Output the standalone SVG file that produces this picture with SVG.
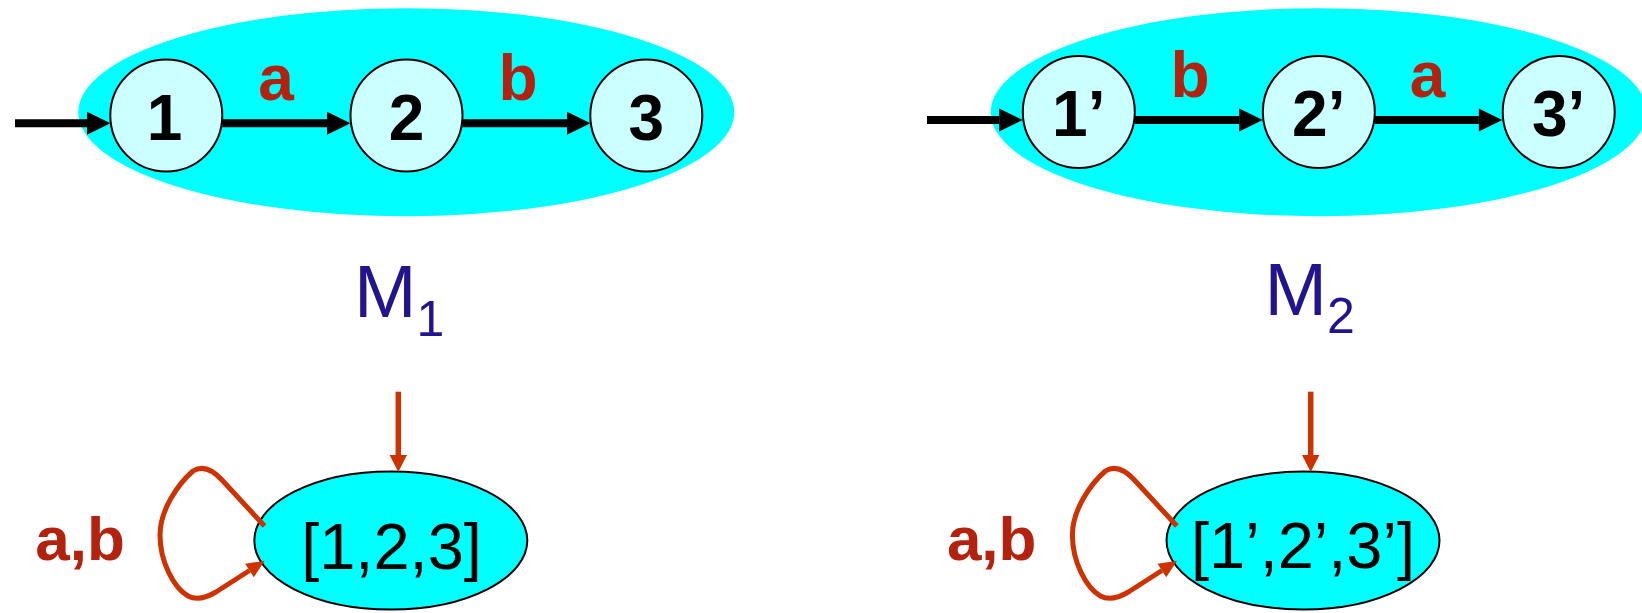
<svg xmlns="http://www.w3.org/2000/svg" width="1642" height="613" viewBox="0 0 1642 613">
  <style>
    .bg { fill: #00FFFF; stroke: none; }
    .state { fill: #CCFFFF; stroke: #000000; stroke-width: 2; }
    .dstate { fill: #00FFFF; stroke: #000000; stroke-width: 2; }
    .num { font-family: "Liberation Sans", Arial, sans-serif; font-weight: bold; font-size: 64px; fill: #000000; text-anchor: middle; }
    .lbl { font-family: "Liberation Sans", Arial, sans-serif; font-weight: bold; font-size: 64px; fill: #B3220F; text-anchor: middle; }
    .ab { font-family: "Liberation Sans", Arial, sans-serif; font-weight: bold; font-size: 62px; fill: #B3220F; text-anchor: middle; }
    .set { font-family: "Liberation Sans", Arial, sans-serif; font-size: 65px; fill: #000000; text-anchor: middle; }
    .mname { font-family: "Liberation Sans", Arial, sans-serif; font-size: 75px; fill: #22148F; }
    .blk { stroke: #000000; stroke-width: 8; fill: none; marker-end: url(#ahb); }
    .red { stroke: #CC3300; stroke-width: 5.5; fill: none; marker-end: url(#ahr); }
    .loop { stroke: #CC3300; stroke-width: 5; fill: none; stroke-linejoin: round; marker-end: url(#ahl); }
  </style>
  <defs>
    <marker id="ahb" markerUnits="userSpaceOnUse" markerWidth="24" markerHeight="24" refX="0" refY="11.5" orient="auto" overflow="visible">
      <path d="M0,0 L23.5,11.5 L0,23 z" fill="#000000"/>
    </marker>
    <marker id="ahr" markerUnits="userSpaceOnUse" markerWidth="18" markerHeight="18" refX="0" refY="8.7" orient="auto" overflow="visible">
      <path d="M0,0 L17,8.7 L0,17.4 z" fill="#CC3300"/>
    </marker>
    <marker id="ahl" markerUnits="userSpaceOnUse" markerWidth="19" markerHeight="17" refX="0" refY="8" orient="auto" overflow="visible">
      <path d="M0,0 L18,8 L0,16 z" fill="#CC3300"/>
    </marker>
  </defs>

  <!-- M1 -->
  <g id="M1-region">
    <ellipse class="bg" cx="406.3" cy="112.2" rx="328" ry="104"/>
  </g>
  <g id="s1">
    <circle class="state" cx="166.3" cy="115.5" r="56"/>
    <text class="num" x="164.5" y="139.5">1</text>
  </g>
  <g id="s2">
    <circle class="state" cx="406.5" cy="115.5" r="56"/>
    <text class="num" x="406.5" y="139.5">2</text>
  </g>
  <g id="s3">
    <circle class="state" cx="646.3" cy="115.5" r="56"/>
    <text class="num" x="646.3" y="139.5">3</text>
  </g>
  <g id="label-M1">
    <text class="mname" x="354" y="317">M<tspan font-size="50" dy="19">1</tspan></text>
  </g>

  <!-- M2 -->
  <g id="M2-region">
    <ellipse class="bg" cx="1318.7" cy="112.2" rx="328" ry="104"/>
  </g>
  <g id="s1p">
    <circle class="state" cx="1078.8" cy="112" r="56"/>
    <text class="num" x="1078.8" y="136">1’</text>
  </g>
  <g id="s2p">
    <circle class="state" cx="1318.8" cy="112" r="56"/>
    <text class="num" x="1318.8" y="136">2’</text>
  </g>
  <g id="s3p">
    <circle class="state" cx="1558.7" cy="112" r="56"/>
    <text class="num" x="1558.7" y="136">3’</text>
  </g>
  <g id="label-M2">
    <text class="mname" x="1264.5" y="315">M<tspan font-size="50" dy="18">2</tspan></text>
  </g>

  <!-- bottom automata -->
  <g id="d1">
    <ellipse class="dstate" cx="390.8" cy="540.5" rx="136.5" ry="69"/>
    <text class="set" x="391.5" y="569">[1,2,3]</text>
  </g>
  <g id="d2">
    <ellipse class="dstate" cx="1303" cy="540.5" rx="136.5" ry="69"/>
    <text class="set" x="1303" y="568">[1’,2’,3’]</text>
  </g>

  <!-- connectors -->
  <g id="connectors">
    <line class="blk" x1="15" y1="123.3" x2="87" y2="123.3"/>
    <line class="blk" x1="222.3" y1="123.3" x2="327" y2="123.3"/>
    <line class="blk" x1="462.5" y1="123.3" x2="567" y2="123.3"/>
    <line class="blk" x1="927" y1="120" x2="999.2" y2="120"/>
    <line class="blk" x1="1134.8" y1="120" x2="1239.2" y2="120"/>
    <line class="blk" x1="1374.8" y1="120" x2="1478.8" y2="120"/>

    <line class="red" x1="398.3" y1="391.7" x2="398.3" y2="455"/>
    <line class="red" x1="1310.7" y1="391.7" x2="1310.7" y2="455"/>

    <path class="loop" d="M264.5,526 L222,480 C210,467 201,466 193,471 C178,484 160,510 160,535 C160,562 174,588 188,596 C197,601 206,598 216,592 L249.5,570.5"/>
    <path class="loop" d="M1176.9,526 L1134.4,480 C1122.4,467 1113.4,466 1105.4,471 C1090.4,484 1072.4,510 1072.4,535 C1072.4,562 1086.4,588 1100.4,596 C1109.4,601 1118.4,598 1128.4,592 L1161.9,570.5"/>

    <text class="lbl" x="276" y="100">a</text>
    <text class="lbl" x="518" y="100">b</text>
    <text class="lbl" x="1190" y="96.7">b</text>
    <text class="lbl" x="1427.5" y="96.7">a</text>
    <text class="ab" x="80" y="560">a,b</text>
    <text class="ab" x="991.7" y="560">a,b</text>
  </g>
</svg>
